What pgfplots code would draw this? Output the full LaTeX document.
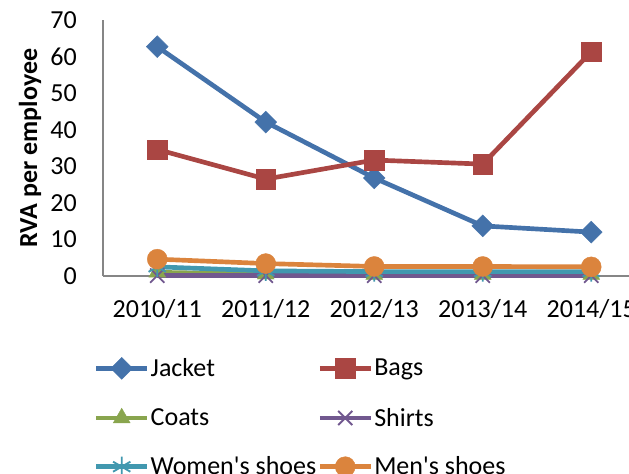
\documentclass[border=0pt]{standalone}
\usepackage{pgfplots}
\pgfplotsset{compat=1.18}
\usepackage{fontspec}
\setmainfont{Carlito}

\definecolor{cJacket}{HTML}{4472AA}
\definecolor{cBags}{HTML}{AA4643}
\definecolor{cCoats}{HTML}{89A54E}
\definecolor{cShirts}{HTML}{71588F}
\definecolor{cWomen}{HTML}{4198AF}
\definecolor{cMen}{HTML}{DB843D}
\definecolor{axisgray}{HTML}{868686}

\newcommand{\chartfont}{\fontsize{19.5}{23}\selectfont}

\begin{document}
\begin{tikzpicture}[x=0.75pt,y=0.75pt]
\useasboundingbox (0,0) rectangle (629,474);
\clip (0,0) rectangle (629,474);
\begin{axis}[
  at={(77.25pt,148.5pt)}, anchor=south west,
  scale only axis, width=406.875pt, height=192pt,
  xmin=-0.5, xmax=4.5, ymin=0, ymax=70,
  clip=false,
  axis lines*=left,
  axis line style={axisgray, line width=1.3pt},
  major tick length=0pt,
  xtick={0,1,2,3,4},
  xticklabels={2010/11,2011/12,2012/13,2013/14,2014/15},
  ytick={0,10,...,70},
  /pgf/number format/assume math mode=true,
  tick label style={font=\chartfont, inner sep=0pt},
  yticklabel style={anchor=east, xshift=-19.5pt},
  xticklabel style={anchor=north, yshift=-17.5pt},
  ylabel={\bfseries RVA per employee},
  every axis y label/.style={at={(axis description cs:-0.1345,0.5)}, rotate=90, anchor=center, font=\chartfont},
  legend columns=2,
  legend cell align=left,
  legend style={
    at={(axis description cs:-0.017,-0.317)}, anchor=north west,
    draw=none, fill=none, inner sep=0pt, font=\chartfont,
    nodes={inner sep=0pt},
    row sep=21.5pt, column sep=1pt,
    /tikz/every even column/.append style={column sep=1pt},
  },
  legend image code/.code={
    \draw[mark repeat=2,mark phase=2] plot coordinates {(0pt,0pt) (19pt,0pt) (38pt,0pt)};
  },
  every axis plot/.append style={line width=3.5pt},
]
\addplot[cJacket, mark=square*, mark size=5.8pt, mark options={solid, rotate=45, fill=cJacket, line width=0.3pt}]
  coordinates {(0,62.7) (1,42.1) (2,26.8) (3,13.7) (4,12.0)};
\addlegendentry{Jacket}
\addplot[cBags, mark=square*, mark size=7.3pt, mark options={solid, fill=cBags, line width=0.3pt}]
  coordinates {(0,34.6) (1,26.5) (2,31.7) (3,30.6) (4,61.3)};
\addlegendentry{Bags}
\addplot[cCoats, mark=triangle*, mark size=7.3pt, mark options={solid, fill=cCoats, line width=0.3pt}]
  coordinates {(0,1.0) (1,0.5) (2,0.4) (3,0.4) (4,0.4)};
\addlegendentry{Coats}
\addplot[cShirts, mark=x, mark size=7.5pt, mark options={solid, line width=1.4pt}]
  coordinates {(0,0.1) (1,0.1) (2,0.1) (3,0.1) (4,0.1)};
\addlegendentry{Shirts}
\addplot[cWomen, mark=asterisk, mark size=7.5pt, mark options={solid, line width=1.4pt}]
  coordinates {(0,2.5) (1,1.4) (2,1.2) (3,1.2) (4,1.2)};
\addlegendentry{Women\textquotesingle s shoes}
\addplot[cMen, mark=*, mark size=7.5pt, mark options={solid, fill=cMen, line width=0.3pt}]
  coordinates {(0,4.6) (1,3.4) (2,2.6) (3,2.6) (4,2.5)};
\addlegendentry{Men\textquotesingle s shoes}
\end{axis}
\end{tikzpicture}
\end{document}
